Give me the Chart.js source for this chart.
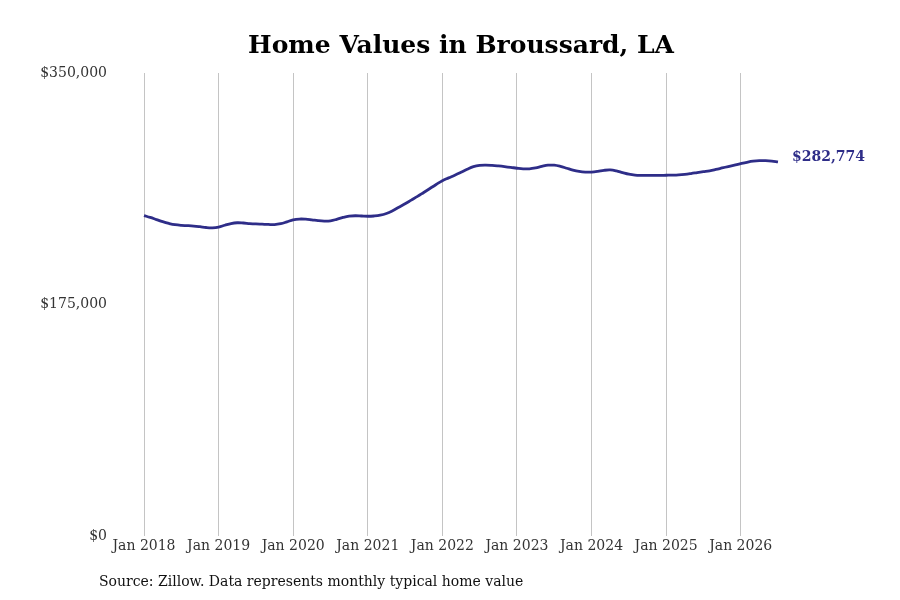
<!DOCTYPE html>
<html>
<head>
<meta charset="utf-8">
<script src="https://cdn.jsdelivr.net/npm/chart.js@4"></script>
<style>
  html, body { margin: 0; padding: 0; background: #fff; }
  #wrap { width: 900px; height: 600px; }
</style>
</head>
<body>
<div id="wrap"><canvas id="homeChart"></canvas></div>
<script>
const startYear = 2018;
const monthNames = ["Jan", "Feb", "Mar", "Apr", "May", "Jun", "Jul", "Aug", "Sep", "Oct", "Nov", "Dec"];

// typical home value, monthly from Jan 2018
const homeValues = [
  242200, 240800, 239200, 237600, 236300, 235300, 234800, 234600, 234300, 233800, 233200, 233000,
  233500, 234900, 236200, 236800, 236600, 236200, 235900, 235700, 235500, 235400, 236100, 237500,
  239000, 239600, 239500, 239000, 238400, 238100, 238300, 239400, 240800, 241800, 242100, 241900,
  241700, 241900, 242500, 243800, 245900, 248500, 251100, 253900, 256700, 259700, 262700, 265700,
  268600, 270700, 272700, 274900, 277200, 279200, 280200, 280400, 280200, 279800, 279300, 278700,
  278000, 277500, 277600, 278300, 279400, 280300, 280300, 279400, 278000, 276600, 275600, 275100,
  275100, 275600, 276400, 276700, 276000, 274700, 273500, 272800, 272600, 272600, 272600, 272600,
  272700, 272800, 273000, 273400, 274000, 274700, 275400, 276100, 277100, 278200, 279300, 280400,
  281500, 282500, 283300, 283700, 283700, 283400, 282774
];

const months = homeValues.map((v, i) => monthNames[i % 12] + " " + (startYear + Math.floor(i / 12)));
const yTicks = [0, 175000, 350000];

const serif = "'DejaVu Serif', serif";
const lineColor = "#2e2d88";

const extras = {
  id: "extras",
  afterDraw(chart) {
    const ctx = chart.ctx;
    const meta = chart.getDatasetMeta(0);
    const last = meta.data[meta.data.length - 1];
    ctx.save();
    ctx.font = "bold 14px " + serif;
    ctx.fillStyle = lineColor;
    ctx.textAlign = "left";
    ctx.textBaseline = "middle";
    const v = homeValues[homeValues.length - 1];
    ctx.fillText("$" + v.toLocaleString("en-US"), last.x + 14, last.y - 5);

    ctx.font = "14px " + serif;
    ctx.fillStyle = "#111";
    ctx.fillText("Source: Zillow. Data represents monthly typical home value", 99, 582);
    ctx.restore();
  }
};

new Chart(document.getElementById("homeChart"), {
  type: "line",
  data: {
    labels: months,
    datasets: [{
      data: homeValues,
      borderColor: lineColor,
      borderWidth: 2.8,
      pointRadius: 0,
      tension: 0.4,
      fill: false
    }]
  },
  options: {
    responsive: true,
    maintainAspectRatio: false,
    animation: false,
    layout: { padding: { left: 0, right: 122, top: 0, bottom: 34 } },
    plugins: {
      legend: { display: false },
      tooltip: { enabled: false },
      title: {
        display: true,
        text: "Home Values in Broussard, LA",
        fullSize: false,
        color: "#000",
        font: { family: serif, size: 25, weight: "bold", lineHeight: 1.2 },
        padding: { top: 31, bottom: 12 }
      }
    },
    scales: {
      x: {
        offset: false,
        border: { display: false },
        grid: { color: "#c4c4c4", lineWidth: 1, drawTicks: false },
        ticks: {
          autoSkip: false,
          maxRotation: 0,
          padding: 2,
          color: "#333",
          font: { family: serif, size: 14 },
          callback: (val, i) => months[i].startsWith("Jan") ? months[i] : null
        },
        afterFit: s => { s.height = 30; }
      },
      y: {
        min: 0,
        max: 350000,
        border: { display: false },
        grid: { display: false, drawTicks: false },
        afterBuildTicks: s => { s.ticks = yTicks.map(v => ({ value: v })); },
        ticks: {
          padding: 37,
          color: "#333",
          font: { family: serif, size: 14 },
          callback: v => "$" + v.toLocaleString("en-US")
        },
        afterFit: s => { s.width = 144; }
      }
    }
  },
  plugins: [extras]
});
</script>
</body>
</html>
